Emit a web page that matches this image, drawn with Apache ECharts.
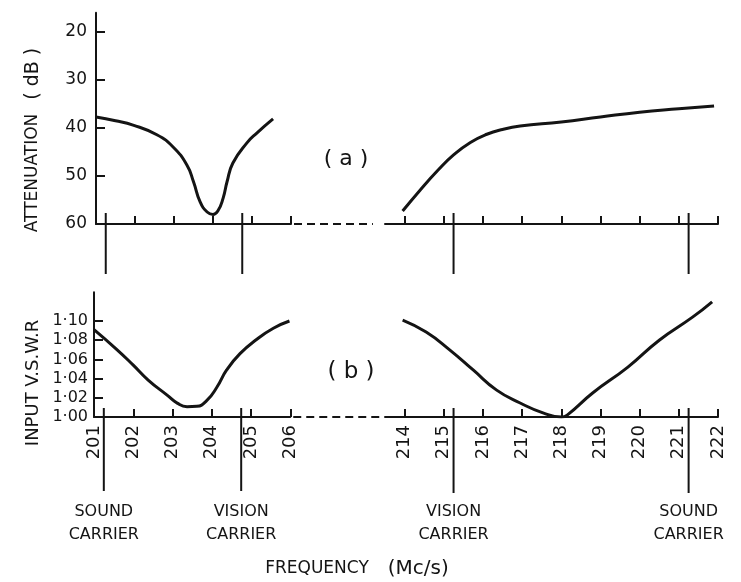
<!DOCTYPE html>
<html><head><meta charset="utf-8">
<script src="https://cdn.jsdelivr.net/npm/echarts@6/dist/echarts.min.js"></script>
<style>html,body{margin:0;padding:0;background:#fff}#c{width:741px;height:582px}</style>
</head><body><div id="c"></div>
<script>
// ---- data ----
// (a) attenuation, dB
const attFreqLeft  = [201.0, 201.5, 201.95, 202.56, 202.97, 203.33, 203.5, 203.67, 203.85, 204.0, 204.13, 204.26, 204.36, 204.51, 204.87, 205.13, 205.54];
const attValLeft   = [37.7, 38.5, 39.4, 41.4, 43.9, 47.7, 51.2, 55.4, 57.5, 58.0, 57.2, 54.6, 51.2, 47.3, 43.1, 41.0, 38.1];
const attFreqRight = [213.95, 214.4, 214.85, 215.25, 215.68, 216.1, 216.5, 216.95, 218.0, 219.0, 220.0, 221.0, 221.9];
const attValRight  = [57.3, 52.9, 48.8, 45.6, 43.0, 41.3, 40.3, 39.6, 38.75, 37.7, 36.7, 36.0, 35.4];
// (b) input V.S.W.R
const vswrFreqLeft  = [201.0, 201.59, 202.0, 202.38, 202.87, 203.12, 203.37, 203.62, 203.87, 204.13, 204.38, 204.72, 205.15, 205.57, 205.98];
const vswrValLeft   = [1.091, 1.070, 1.054, 1.0385, 1.0225, 1.0145, 1.0108, 1.0112, 1.0170, 1.031, 1.049, 1.066, 1.081, 1.0925, 1.100];
const vswrFreqRight = [213.95, 214.55, 215.15, 215.75, 216.35, 216.95, 217.55, 218.0, 218.15, 218.8, 219.7, 220.5, 221.35, 221.85];
const vswrValRight  = [1.101, 1.0885, 1.070, 1.049, 1.028, 1.0146, 1.004, 1.000, 1.002, 1.025, 1.052, 1.080, 1.104, 1.120];
// axes
const attTicks       = [20, 30, 40, 50, 60];
const vswrTicks      = [1.00, 1.02, 1.04, 1.06, 1.08, 1.10];
const freqTicksLeft  = [202, 203, 204, 205, 206];
const freqLabelsLeft = [201, 202, 203, 204, 205, 206];
const freqTicksRight = [214, 215, 216, 217, 218, 219, 220, 221, 222];
// carriers
const carrierFreqLeft  = [201.25, 204.75];
const carrierNameLeft  = ['SOUND\nCARRIER', 'VISION\nCARRIER'];
const carrierFreqRight = [215.25, 221.25];
const carrierNameRight = ['VISION\nCARRIER', 'SOUND\nCARRIER'];

const INK = '#141414';
const FONT = 'DejaVu Sans';
const ATT_MIN = 16, ATT_MAX = 60, V_MIN = 1.0, V_MAX = 1.13;

const chart = echarts.init(document.getElementById('c'), null, {renderer: 'canvas'});

function xAx(grid, min, max, ticks, labels) {
  return {
    type: 'value', gridIndex: grid, min: min, max: max,
    axisLine: {onZero: false, lineStyle: {color: INK, width: 2}},
    axisTick: {show: !!ticks, inside: true, length: 8, customValues: ticks || [], lineStyle: {color: INK, width: 2}},
    axisLabel: labels ? {customValues: labels, rotate: 90, margin: 8, color: INK, fontFamily: FONT, fontSize: 18} : {show: false},
    splitLine: {show: false}
  };
}
function yAx(grid, min, max, inverse, ticks, fmt, show, fs, margin) {
  return {
    type: 'value', gridIndex: grid, min: min, max: max, inverse: inverse, show: show,
    axisLine: {onZero: false, lineStyle: {color: INK, width: 2}},
    axisTick: {inside: true, length: 9, customValues: ticks, lineStyle: {color: INK, width: 2}},
    axisLabel: {customValues: ticks, formatter: fmt, color: INK, fontFamily: FONT, fontSize: fs, margin: margin},
    splitLine: {show: false}
  };
}
function curve(xi, freqs, vals) {
  return {
    type: 'line', xAxisIndex: xi, yAxisIndex: xi, smooth: true, showSymbol: false, silent: true,
    data: freqs.map((f, i) => [f, vals[i]]),
    lineStyle: {color: INK, width: 3}
  };
}
function carriers(xi, freqs, names, base, up, down, withLabels) {
  return {
    type: 'custom', xAxisIndex: xi, yAxisIndex: xi, silent: true, clip: false,
    data: freqs.map(f => [f, base]),
    renderItem: function (params, api) {
      const p = api.coord([api.value(0), api.value(1)]);
      const children = [{type: 'line', shape: {x1: p[0], y1: p[1] - up, x2: p[0], y2: p[1] + down},
        style: {stroke: INK, lineWidth: 2}}];
      if (withLabels) {
        children.push({type: 'text', x: p[0], y: p[1] + 83, style: {
          text: names[params.dataIndex], fill: INK, font: '16px ' + FONT,
          align: 'center', verticalAlign: 'top', lineHeight: 23}});
      }
      return {type: 'group', children: children};
    }
  };
}
function dashed(xi, from, to, base) {
  return {
    type: 'custom', xAxisIndex: xi, yAxisIndex: xi, silent: true, clip: false,
    data: [[from, base, to]],
    renderItem: function (params, api) {
      const a = api.coord([api.value(0), api.value(1)]);
      const b = api.coord([api.value(2), api.value(1)]);
      return {type: 'line', shape: {x1: a[0] + 3, y1: a[1], x2: b[0], y2: b[1]},
        style: {stroke: INK, lineWidth: 2, lineDash: [8, 5]}};
    }
  };
}

const vfmt = v => v.toFixed(2).replace('.', '·');

chart.setOption({
  backgroundColor: '#ffffff',
  animation: false,
  grid: [
    {left: 96, top: 12.8, width: 195, height: 211.2},
    {left: 385, top: 12.8, width: 333, height: 211.2},
    {left: 94, top: 292.2, width: 196.25, height: 124.8},
    {left: 385, top: 292.2, width: 333, height: 124.8}
  ],
  xAxis: [
    xAx(0, 201, 206, freqTicksLeft, null),
    xAx(1, 213.5, 222, freqTicksRight, null),
    xAx(2, 201, 206, freqTicksLeft, freqLabelsLeft),
    xAx(3, 213.5, 222, freqTicksRight, freqTicksRight)
  ],
  yAxis: [
    yAx(0, ATT_MIN, ATT_MAX, true, attTicks, v => String(v), true, 17, 9),
    yAx(1, ATT_MIN, ATT_MAX, true, attTicks, v => String(v), false, 17, 9),
    yAx(2, V_MIN, V_MAX, false, vswrTicks, vfmt, true, 16, 6),
    yAx(3, V_MIN, V_MAX, false, vswrTicks, vfmt, false, 16, 6)
  ],
  series: [
    curve(0, attFreqLeft, attValLeft),
    curve(1, attFreqRight, attValRight),
    curve(2, vswrFreqLeft, vswrValLeft),
    curve(3, vswrFreqRight, vswrValRight),
    carriers(0, carrierFreqLeft, carrierNameLeft, ATT_MAX, 11, 50, false),
    carriers(1, carrierFreqRight, carrierNameRight, ATT_MAX, 11, 50, false),
    carriers(2, carrierFreqLeft, carrierNameLeft, V_MIN, 9, 74, true),
    carriers(3, carrierFreqRight, carrierNameRight, V_MIN, 9, 76, true),
    dashed(0, 206, 208.1, ATT_MAX),
    dashed(2, 206, 208.3, V_MIN)
  ],
  graphic: [
    {type: 'text', x: 33, y: 140, rotation: Math.PI / 2, silent: true, style: {
      text: '{a|ATTENUATION}{g|}{b|( dB )}', fill: INK, align: 'center', verticalAlign: 'middle',
      rich: {a: {fontFamily: FONT, fontSize: 17, fill: INK}, g: {width: 14}, b: {fontFamily: FONT, fontSize: 19, fill: INK}}}},
    {type: 'text', x: 33, y: 383, rotation: Math.PI / 2, silent: true, style: {
      text: 'INPUT V.S.W.R', fill: INK, font: '18px ' + FONT, align: 'center', verticalAlign: 'middle'}},
    {type: 'text', x: 346, y: 159, silent: true, style: {
      text: '( a )', fill: INK, font: '22px ' + FONT, align: 'center', verticalAlign: 'middle'}},
    {type: 'text', x: 351, y: 372, silent: true, style: {
      text: '( b )', fill: INK, font: '23px ' + FONT, align: 'center', verticalAlign: 'middle'}},
    {type: 'text', x: 357, y: 569, silent: true, style: {
      text: '{a|FREQUENCY}{g|}{b|(Mc/s)}', fill: INK, align: 'center', verticalAlign: 'middle',
      rich: {a: {fontFamily: FONT, fontSize: 17, fill: INK}, g: {width: 19}, b: {fontFamily: FONT, fontSize: 20, fill: INK}}}}
  ]
});
</script></body></html>
